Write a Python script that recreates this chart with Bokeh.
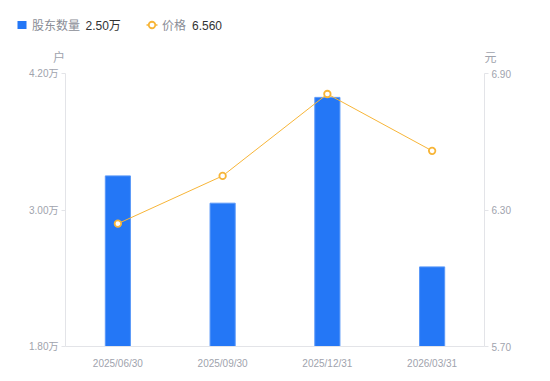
from bokeh.plotting import figure
from bokeh.layouts import column
from bokeh.models import (Range1d, LinearAxis, FixedTicker, ColumnDataSource, FactorRange)
from bokeh.core.properties import value
from bokeh.embed import file_html
from bokeh.resources import INLINE

dates = ["2025/06/30", "2025/09/30", "2025/12/31", "2026/03/31"]
holders = [3.30, 3.06, 3.99, 2.50]      # 万户
prices = [6.24, 6.45, 6.81, 6.56]       # 元
left_ticks = [1.80, 3.00, 4.20]
right_ticks = [5.70, 6.30, 6.90]
series_names = ["股东数量", "价格"]
units = ["户", "元"]

FONT = "'Liberation Sans', 'Noto Sans CJK SC'"
GRAY = "#a0a3ad"
LEG_GRAY = "#8a8d96"
DARK = "#333333"
AXIS = "#e3e4e8"
BLUE = "#2477f6"
ORANGE = "#f7b538"

W = 542
HEAD_H = 66

# ---------- header (legend + unit labels) ----------
h = figure(width=W, height=HEAD_H, x_range=Range1d(0, W), y_range=Range1d(HEAD_H, 0),
           output_backend="svg", toolbar_location=None, x_axis_type=None, y_axis_type=None,
           min_border=0, min_border_left=0, min_border_right=0, min_border_top=0, min_border_bottom=0)
h.outline_line_color = None
h.grid.visible = False
h.frame_align = False

h.rect(x=[21.5], y=[24.5], width=9, height=8, fill_color=BLUE, line_color=None)
h.line(x=[146, 157], y=[24.5, 24.5], line_color=ORANGE, line_width=1.5)
h.scatter(x=[151.5], y=[24.5], size=6.5, marker="circle", fill_color="white",
          line_color=ORANGE, line_width=1.8)

def htext(xs, ys, texts, color, align="left"):
    h.text(x=xs, y=ys, text=texts, text_color=color, text_font=value(FONT),
           text_font_size="12px", text_align=align, text_baseline="middle")

htext([31.5, 161.5], [25, 25], series_names, LEG_GRAY)
htext([85, 191.5], [25, 25], [f"{holders[-1]:.2f}万", f"{prices[-1]:.3f}"], DARK)
htext([58.5, 490], [57, 57], units, GRAY, align="center")

# ---------- main chart ----------
src = ColumnDataSource(dict(d=dates, h=holders, p=prices))

p = figure(width=W, height=373 - HEAD_H, x_range=FactorRange(*dates),
           y_range=Range1d(left_ticks[0], left_ticks[-1]),
           output_backend="svg", toolbar_location=None,
           min_border_left=65, min_border_right=58, min_border_top=7, min_border_bottom=27)
p.extra_y_ranges = {"price": Range1d(right_ticks[0], right_ticks[-1])}
p.outline_line_color = None
p.grid.visible = False
p.frame_align = False

p.vbar(x="d", top="h", bottom=left_ticks[0], width=0.24, source=src,
       fill_color=BLUE, line_color="#5a98f8", line_width=1)
p.line(x="d", y="p", source=src, y_range_name="price", line_color=ORANGE, line_width=1)
p.scatter(x="d", y="p", source=src, y_range_name="price", size=6.5, marker="circle",
          fill_color="white", line_color=ORANGE, line_width=1.8)

def style_axis(ax, ticks, fmt):
    ax.ticker = FixedTicker(ticks=ticks)
    ax.major_label_overrides = {t: fmt(t) for t in ticks}
    ax.axis_line_color = AXIS
    ax.major_tick_line_color = AXIS
    ax.major_tick_out = 4
    ax.major_tick_in = 0
    ax.minor_tick_line_color = None
    ax.major_label_text_color = GRAY
    ax.major_label_text_font_size = "10px"
    ax.major_label_text_font = FONT
    ax.major_label_standoff = 3

style_axis(p.yaxis[0], left_ticks, lambda t: f"{t:.2f}万")
yr = LinearAxis(y_range_name="price")
style_axis(yr, right_ticks, lambda t: f"{t:.2f}")
p.add_layout(yr, "right")

xa = p.xaxis[0]
xa.axis_line_color = AXIS
xa.major_tick_line_color = None
xa.minor_tick_line_color = None
xa.major_label_text_color = GRAY
xa.major_label_text_font_size = "10px"
xa.major_label_text_font = FONT
xa.major_label_standoff = 5

layout = column(h, p, spacing=0)
open("out.html", "w").write(file_html(layout, INLINE))
